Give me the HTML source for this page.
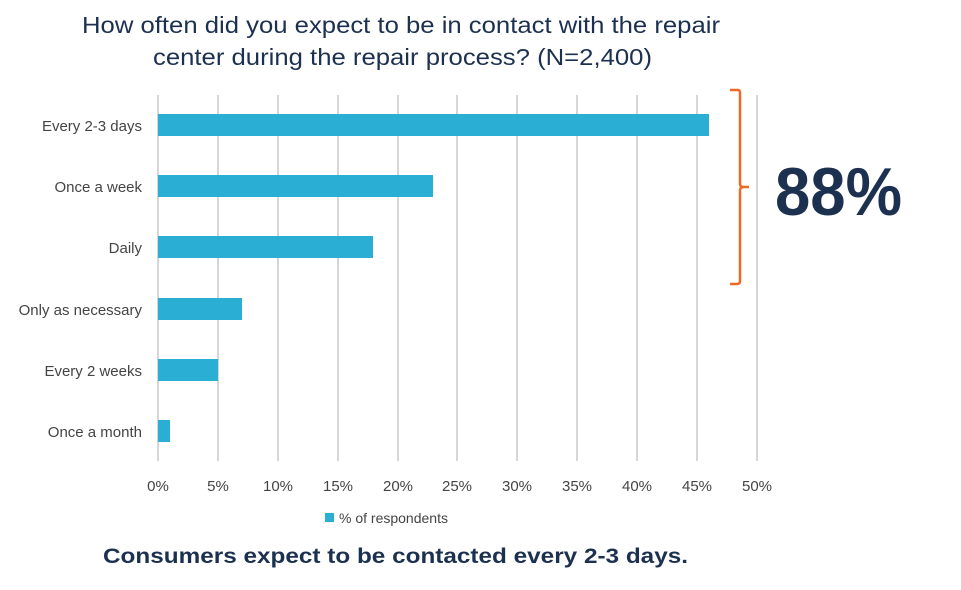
<!DOCTYPE html>
<html><head><style>body{margin:0;background:#fff}</style></head><body>
<svg width="961" height="585" xmlns="http://www.w3.org/2000/svg" font-family="Liberation Sans, sans-serif">
<text x="82" y="33" font-size="23" fill="#1c3050" textLength="638" lengthAdjust="spacingAndGlyphs">How often did you expect to be in contact with the repair</text>
<text x="153" y="65" font-size="23" fill="#1c3050" textLength="499" lengthAdjust="spacingAndGlyphs">center during the repair process?  (N=2,400)</text>
<g stroke="#c8c8c8" stroke-width="1.5">
<line x1="158" y1="95" x2="158" y2="461"/><line x1="218" y1="95" x2="218" y2="461"/><line x1="278" y1="95" x2="278" y2="461"/><line x1="338" y1="95" x2="338" y2="461"/><line x1="398" y1="95" x2="398" y2="461"/><line x1="457" y1="95" x2="457" y2="461"/><line x1="517" y1="95" x2="517" y2="461"/><line x1="577" y1="95" x2="577" y2="461"/><line x1="637" y1="95" x2="637" y2="461"/><line x1="697" y1="95" x2="697" y2="461"/><line x1="757" y1="95" x2="757" y2="461"/>
</g>
<g fill="#2aaed3">
<rect x="158" y="114" width="551" height="22"/>
<rect x="158" y="175" width="275" height="22"/>
<rect x="158" y="236" width="215" height="22"/>
<rect x="158" y="298" width="84" height="22"/>
<rect x="158" y="359" width="60" height="22"/>
<rect x="158" y="420" width="12" height="22"/>
</g>
<g font-size="15" fill="#444" text-anchor="end">
<text x="142" y="131">Every 2-3 days</text>
<text x="142" y="192">Once a week</text>
<text x="142" y="253">Daily</text>
<text x="142" y="315">Only as necessary</text>
<text x="142" y="376">Every 2 weeks</text>
<text x="142" y="437">Once a month</text>
</g>
<g font-size="15" fill="#444" text-anchor="middle">
<text x="158" y="491">0%</text><text x="218" y="491">5%</text><text x="278" y="491">10%</text><text x="338" y="491">15%</text><text x="398" y="491">20%</text><text x="457" y="491">25%</text><text x="517" y="491">30%</text><text x="577" y="491">35%</text><text x="637" y="491">40%</text><text x="697" y="491">45%</text><text x="757" y="491">50%</text>
</g>
<rect x="325" y="513" width="9" height="9" fill="#2aaed3"/>
<text x="339" y="523" font-size="14" fill="#444">% of respondents</text>
<path d="M730 90 H738 Q740 90 740 93 V184 Q740 187 744 187 H749 M744 187 Q740 187 740 190 V281 Q740 284 737 284 H730" fill="none" stroke="#ee6a24" stroke-width="2.5"/>
<text x="775" y="215" font-size="68" font-weight="bold" fill="#1c3050" textLength="127" lengthAdjust="spacingAndGlyphs">88%</text>
<text x="103" y="563" font-size="21" font-weight="bold" fill="#1c3050" textLength="585" lengthAdjust="spacingAndGlyphs">Consumers expect to be contacted every 2-3 days.</text>
</svg>
</body></html>
